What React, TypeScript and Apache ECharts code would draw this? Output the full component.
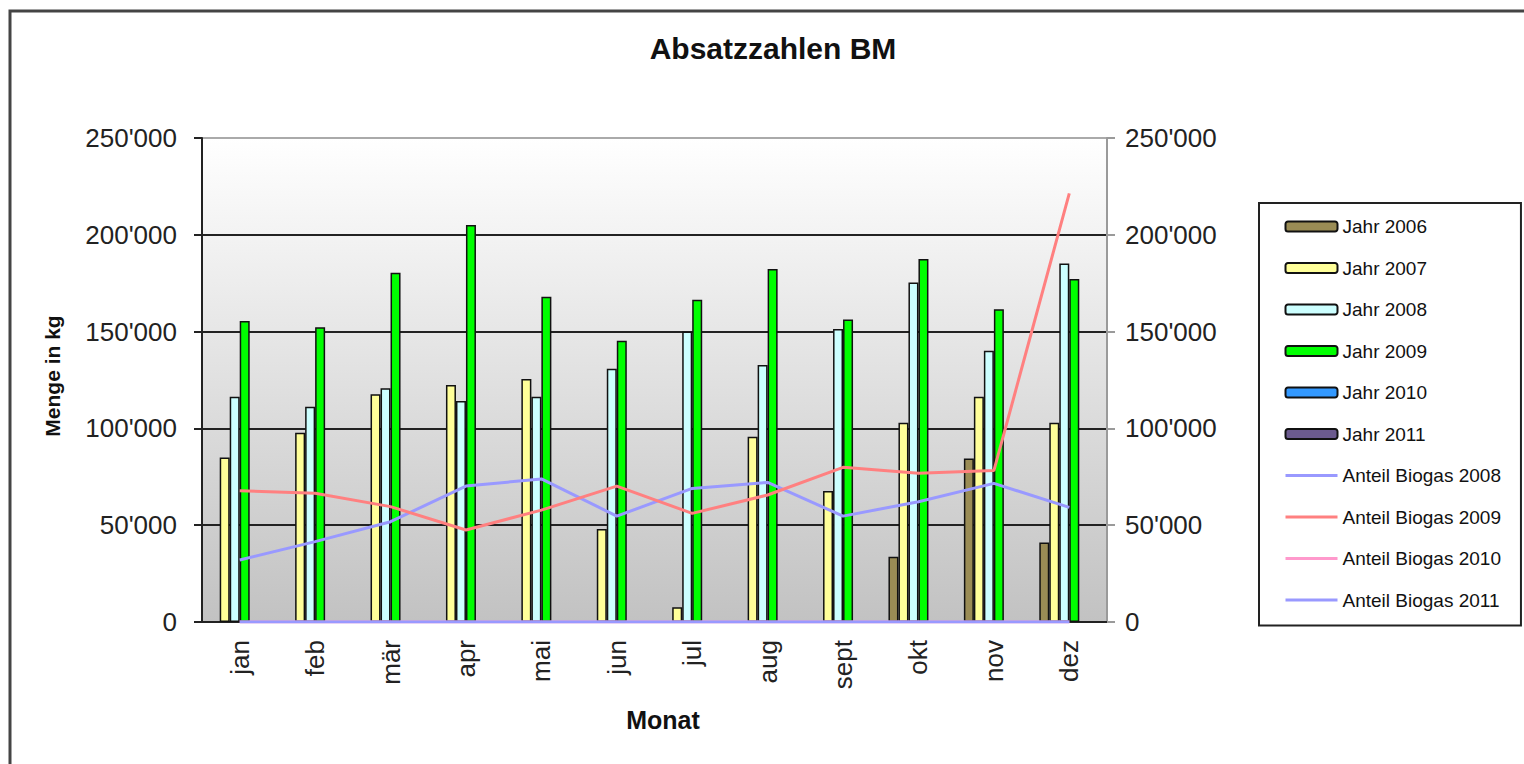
import React, { useEffect, useRef } from "react";
import * as echarts from "echarts";

const months = ["jan", "feb", "mär", "apr", "mai", "jun", "jul", "aug", "sept", "okt", "nov", "dez"];
const yTicks = { min: 0, max: 250000, interval: 50000 };

const jahr2006 = [null, null, null, null, null, null, null, null, null, 33700, 84500, 41000];
const jahr2007 = [85000, 97800, 117600, 122400, 125500, 48000, 7600, 95700, 67700, 102900, 116400, 102900];
const jahr2008 = [116400, 111200, 120700, 114100, 116400, 130800, 150000, 132700, 151300, 175300, 140100, 185200];
const jahr2009 = [155500, 152200, 180400, 205000, 168000, 145300, 166500, 182300, 156300, 187500, 161500, 177200];
const jahr2010 = [null, null, null, null, null, null, null, null, null, null, null, null];
const jahr2011 = [null, null, null, null, null, null, null, null, null, null, null, null];

const biogas2008 = [32000, 41500, 51800, 70200, 73900, 54700, 69000, 72100, 54700, 62100, 71600, 59200];
const biogas2009 = [67800, 66500, 59600, 47500, 57800, 70200, 56100, 65600, 79900, 76800, 78200, 221400];
const biogas2010 = [0, 0, 0, 0, 0, 0, 0, 0, 0, 0, 0, 0];
const biogas2011 = [0, 0, 0, 0, 0, 0, 0, 0, 0, 0, 0, 0];

const barSeries = [
  { name: "Jahr 2006", data: jahr2006, color: "#9A8C55" },
  { name: "Jahr 2007", data: jahr2007, color: "#FFFF99" },
  { name: "Jahr 2008", data: jahr2008, color: "#CCFFFF" },
  { name: "Jahr 2009", data: jahr2009, color: "#00FF00" },
  { name: "Jahr 2010", data: jahr2010, color: "#3399FF" },
  { name: "Jahr 2011", data: jahr2011, color: "#6B5A8E" },
];
const lineSeries = [
  { name: "Anteil Biogas 2008", data: biogas2008, color: "#9999FF" },
  { name: "Anteil Biogas 2009", data: biogas2009, color: "#FF8080" },
  { name: "Anteil Biogas 2010", data: biogas2010, color: "#FF99CC" },
  { name: "Anteil Biogas 2011", data: biogas2011, color: "#9999FF" },
];

const FONT = "'Liberation Sans', Arial, sans-serif";

function fmt(v: number) {
  if (v === 0) return "0";
  const s = String(Math.round(v));
  return s.replace(/\B(?=(\d{3})+(?!\d))/g, "'");
}

export default function App() {
  const ref = useRef<HTMLDivElement>(null);
  useEffect(() => {
    if (!ref.current) return;
    const chart = echarts.init(ref.current, null, { renderer: "svg" });
    const option: any = {
      animation: false,
      backgroundColor: "#ffffff",
      title: {
        text: "Absatzzahlen BM",
        left: 773,
        textAlign: "center",
        top: 33,
        padding: 0,
        textStyle: { fontFamily: FONT, fontWeight: "bold", fontSize: 30, color: "#111" },
      },
      legend: {
        orient: "vertical",
        left: 1259,
        top: 203,
        backgroundColor: "#ffffff",
        borderColor: "#222",
        borderWidth: 2,
        padding: [14, 20, 16, 25],
        itemWidth: 52,
        itemHeight: 10,
        itemGap: 22.5,
        textStyle: { fontFamily: FONT, fontSize: 19, lineHeight: 19, color: "#111" },
        data: [
          ...barSeries.map((s) => ({ name: s.name })),
          ...lineSeries.map((s) => ({
            name: s.name,
            itemStyle: { color: "rgba(0,0,0,0)", borderWidth: 0, opacity: 0 },
            lineStyle: { color: s.color, width: 3 },
          })),
        ],
      },
      grid: {
        left: 202,
        right: 417,
        top: 138,
        bottom: 142,
        show: true,
        borderWidth: 0,
        backgroundColor: new echarts.graphic.LinearGradient(0, 0, 0, 1, [
          { offset: 0, color: "#FFFFFF" },
          { offset: 1, color: "#C2C2C2" },
        ]),
      },
      xAxis: {
        type: "category",
        data: months,
        axisLine: { lineStyle: { color: "#222", width: 2 } },
        axisTick: { show: false },
        axisLabel: { rotate: 90, margin: 18, fontFamily: FONT, fontSize: 26, color: "#222" },
      },
      yAxis: [
        {
          type: "value",
          ...yTicks,
          axisLine: { show: true, lineStyle: { color: "#222", width: 2 } },
          axisTick: { show: true, length: 8, lineStyle: { color: "#222", width: 2 } },
          axisLabel: { margin: 25, fontFamily: FONT, fontSize: 26, color: "#222", formatter: fmt },
          splitLine: {
            show: true,
            lineStyle: { color: ["#222", "#222", "#222", "#222", "#222", "#aaaaaa"], width: 2 },
          },
        },
        {
          type: "value",
          ...yTicks,
          position: "right",
          axisLine: { show: true, lineStyle: { color: "#9a9a9a", width: 2 } },
          axisTick: { show: true, length: 8, lineStyle: { color: "#9a9a9a", width: 2 } },
          axisLabel: { margin: 18, fontFamily: FONT, fontSize: 26, color: "#222", formatter: fmt },
          splitLine: { show: false },
        },
      ],
      graphic: [
        {
          type: "rect",
          shape: { x: 10, y: 11, width: 1600, height: 900 },
          style: { fill: "none", stroke: "#444", lineWidth: 3 },
          silent: true,
        },
        {
          type: "text",
          x: 52,
          y: 376,
          rotation: Math.PI / 2,
          style: {
            text: "Menge in kg",
            fontFamily: FONT,
            fontWeight: "bold",
            fontSize: 21,
            fill: "#111",
            textAlign: "center",
            textVerticalAlign: "middle",
          },
        },
        {
          type: "text",
          x: 663,
          y: 720,
          style: {
            text: "Monat",
            fontFamily: FONT,
            fontWeight: "bold",
            fontSize: 25,
            fill: "#111",
            textAlign: "center",
            textVerticalAlign: "middle",
          },
        },
      ],
      series: [
        ...barSeries.map((s) => ({
          name: s.name,
          type: "bar",
          data: s.data,
          barWidth: 10,
          barGap: "0%",
          itemStyle: { color: s.color, borderColor: "#111", borderWidth: 1.5 },
        })),
        ...lineSeries.map((s) => ({
          name: s.name,
          type: "line",
          yAxisIndex: 1,
          data: s.data,
          symbol: "none",
          lineStyle: { color: s.color, width: 3 },
          itemStyle: { color: s.color },
          z: 5,
        })),
      ],
    };
    chart.setOption(option);
    return () => chart.dispose();
  }, []);
  return (
    <div
      ref={ref}
      style={{ position: "absolute", left: 0, top: 0, width: 1524, height: 764 }}
    />
  );
}
